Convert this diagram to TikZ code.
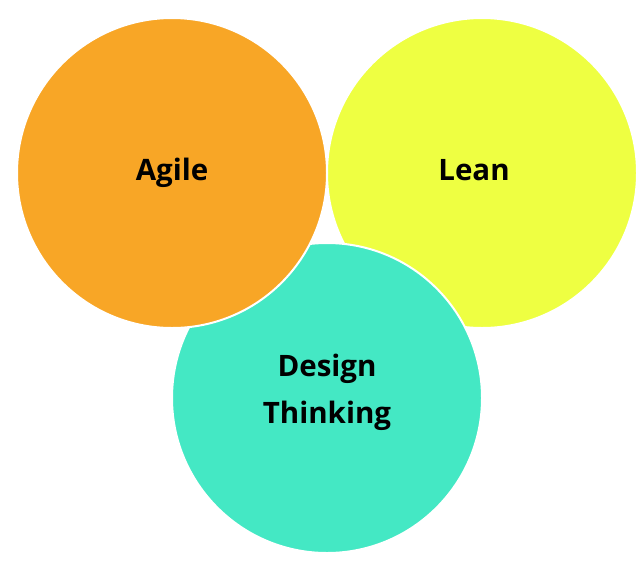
\documentclass[tikz,border=0pt]{standalone}
\usepackage{fontspec}
\setmainfont{Open Sans}
\definecolor{agileorange}{RGB}{248,166,38}
\definecolor{leanyellow}{RGB}{238,255,66}
\definecolor{designteal}{RGB}{68,232,196}
\begin{document}
\begin{tikzpicture}[x=1pt, y=-1pt,
    bubble/.style={circle, draw=white, line width=2pt, minimum size=310pt, inner sep=0pt},
    word/.style={align=center, inner sep=0pt, font=\fontsize{29.5}{47}\selectfont\bfseries}]
      \useasboundingbox (0,0) rectangle (639,573);

      % lean goes first, design on top of it, agile on top of both
      \node[bubble, fill=leanyellow] (lean) at (482,173) {};
      \node[bubble, fill=designteal] (design) at (327,398) {};
      \node[bubble, fill=agileorange] (agile) at (172,173) {};

      \node[word] (leantext) at ([shift={(-8,-3)}]lean.center) {Lean};
      \node[word] (designtext) at ([shift={(0,-6)}]design.center) {Design\\Thinking};
      \node[word] (agiletext) at ([shift={(0,0)}]agile.center) {Agile};
    \end{tikzpicture}
\end{document}
